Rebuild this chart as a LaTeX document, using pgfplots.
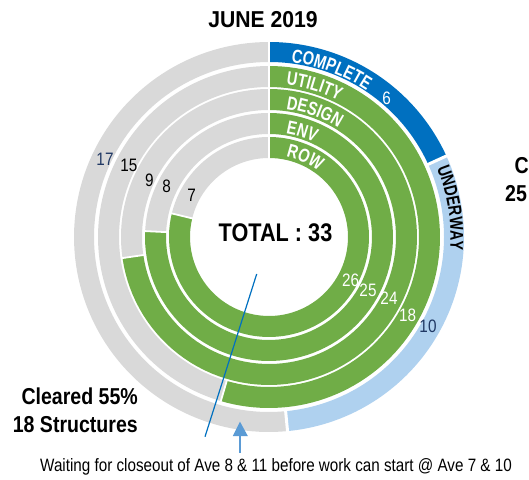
\documentclass[border=0pt]{standalone}
\usepackage{pgfplots}
\pgfplotsset{compat=1.18}
\usepackage{fontspec}
\setmainfont{Liberation Sans}[FakeStretch=0.85]
\newfontfamily\titlefont{Liberation Sans}[FakeStretch=0.92]
\newfontfamily\ringfont{Liberation Sans}[FakeStretch=0.77]
\usetikzlibrary{decorations.text}
\definecolor{cdark}{HTML}{0070C0}
\definecolor{clight}{HTML}{AFD1EF}
\definecolor{cgreen}{HTML}{70AD47}
\definecolor{cgray}{HTML}{D9D9D9}
\definecolor{cnavy}{HTML}{203864}
\definecolor{carrow}{HTML}{5B9BD5}
% ring segment: colour, radius, width, from count, to count (total 33)
\newcommand{\seg}[5]{%
  \addplot[draw=#1, line width=#3pt, domain=#4:#5, samples=90, no marks]
    ({269+#2*sin(x*360/33)},{242+#2*cos(x*360/33)});}
% white separator: at count, r1, r2, width
\newcommand{\sep}[4]{%
  \addplot[draw=white, line width=#4pt, domain=#2:#3, samples=2, no marks]
    ({269+x*sin(#1*360/33)},{242+x*cos(#1*360/33)});}
\begin{document}
\begin{tikzpicture}
\begin{axis}[at={(0,0)}, anchor=south west, scale only axis,
  width=529pt, height=479pt, xmin=0, xmax=529, ymin=0, ymax=479,
  hide axis, clip=false]
\coordinate (bl) at (axis cs:0,0);
\coordinate (tr) at (axis cs:529,479);
% outer ring: COMPLETE 6, UNDERWAY 10, remaining 17
\seg{cdark}{185}{20}{0}{6}
\seg{clight}{185}{20}{6}{16}
\seg{cgray}{185}{20}{16}{33}
% UTILITY 18 / 15
\seg{cgreen}{160.5}{21}{0}{18}
\seg{cgray}{160.5}{21}{18}{33}
% DESIGN 24 / 9
\seg{cgreen}{137.5}{21}{0}{24}
\seg{cgray}{137.5}{21}{24}{33}
% ENV 25 / 8
\seg{cgreen}{113.5}{21}{0}{25}
\seg{cgray}{113.5}{21}{25}{33}
% ROW 26 / 7
\seg{cgreen}{89.5}{21}{0}{26}
\seg{cgray}{89.5}{21}{26}{33}
% separators
\sep{0}{77}{197}{2}
\sep{6}{173}{197}{3}
\sep{16}{173}{197}{3}
\sep{18}{148.5}{172.5}{1.8}
\sep{24}{125.5}{149.5}{1.8}
\sep{25}{101.5}{125.5}{1.8}
\sep{26}{77.5}{101.5}{1.8}
% ring names
\path[decorate, decoration={text along path, text color=white,
  text={|\ringfont\bfseries\fontsize{19}{19}\selectfont|COMPLETE}}]
  (axis cs:269,242) ++(82.8:176pt) arc[start angle=82.8, end angle=0, radius=176pt];
\path[decorate, decoration={text along path, text color=white,
  text={|\ringfont\bfseries\fontsize{19}{19}\selectfont|UTILITY}}]
  (axis cs:269,242) ++(83.6:153pt) arc[start angle=83.6, end angle=0, radius=153pt];
\path[decorate, decoration={text along path, text color=white,
  text={|\ringfont\bfseries\fontsize{19}{19}\selectfont|DESIGN}}]
  (axis cs:269,242) ++(82.4:129pt) arc[start angle=82.4, end angle=0, radius=129pt];
\path[decorate, decoration={text along path, text color=white,
  text={|\ringfont\bfseries\fontsize{19}{19}\selectfont|ENV}}]
  (axis cs:269,242) ++(80.7:105pt) arc[start angle=80.7, end angle=0, radius=105pt];
\path[decorate, decoration={text along path, text color=white,
  text={|\ringfont\bfseries\fontsize{19}{19}\selectfont|ROW}}]
  (axis cs:269,242) ++(78:82pt) arc[start angle=78, end angle=0, radius=82pt];
\path[decorate, decoration={text along path, text color=black,
  text={|\ringfont\bfseries\fontsize{18.5}{18.5}\selectfont|UNDERWAY}}]
  (axis cs:269,242) ++(22.3:181.5pt) arc[start angle=22.3, end angle=-45, radius=181.5pt];
% value labels
\begin{scope}[every node/.style={font=\fontsize{18}{18}\selectfont}]
\node[text=white] at (axis cs:386.7,380.7) {6};
\node[text=cnavy] at (axis cs:428,153) {10};
\node[text=white] at (axis cs:407.7,164) {18};
\node[text=white] at (axis cs:389,181) {24};
\node[text=white] at (axis cs:368,189) {25};
\node[text=white] at (axis cs:350.7,198.3) {26};
\node[text=cnavy] at (axis cs:105,320) {17};
\node[text=black] at (axis cs:129,313.3) {15};
\node[text=black] at (axis cs:149.3,299) {9};
\node[text=black] at (axis cs:166.7,292.3) {8};
\node[text=black] at (axis cs:191.7,283.3) {7};
\end{scope}
% pointer and arrow
\addplot[draw=cdark, line width=1.2pt, no marks] coordinates {(256.7,205) (205,42.3)};
\addplot[fill=carrow, draw=none, no marks] coordinates {(240,57.3) (232.8,43) (247.8,43)} -- cycle;
\addplot[draw=carrow, line width=1.3pt, no marks] coordinates {(240,43) (240,25.7)};
% texts
\node[font=\titlefont\bfseries\fontsize{23}{23}\selectfont] at (axis cs:263,459) {JUNE 2019};
\node[font=\bfseries\fontsize{25.5}{25.5}\selectfont] at (axis cs:275.5,246.5) {TOTAL : 33};
\node[anchor=base east, inner sep=0pt, font=\bfseries\fontsize{23}{23}\selectfont] at (axis cs:138,75) {Cleared 55\%};
\node[anchor=base east, inner sep=0pt, font=\bfseries\fontsize{23}{23}\selectfont] at (axis cs:138,46.3) {18 Structures};
\node[anchor=base west, inner sep=0pt, font=\bfseries\fontsize{23}{23}\selectfont] at (axis cs:514.3,305.7) {Cleared 76\%};
\node[anchor=base west, inner sep=0pt, font=\bfseries\fontsize{23}{23}\selectfont] at (axis cs:505,277.3) {25 Structures};
\node[anchor=base, inner sep=0pt, font=\fontsize{17.9}{17.9}\selectfont] at (axis cs:276,7.3) {Waiting for closeout of Ave 8 \& 11 before work can start @ Ave 7 \& 10};
\end{axis}
\pgfresetboundingbox
\path (bl) rectangle (tr);
\end{tikzpicture}
\end{document}
